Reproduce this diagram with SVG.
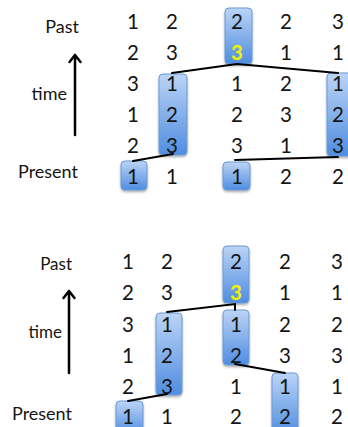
<svg xmlns="http://www.w3.org/2000/svg" width="348" height="427" viewBox="0 0 348 427">
<defs>
<linearGradient id="g" x1="0" y1="0" x2="0" y2="1">
<stop offset="0" stop-color="#bcd4f6"/>
<stop offset="1" stop-color="#4f8de0"/>
</linearGradient>
<filter id="sh" x="-30%" y="-30%" width="160%" height="160%">
<feDropShadow dx="0" dy="1.5" stdDeviation="1.2" flood-color="#000" flood-opacity="0.35"/>
</filter>
</defs>
<style>
.box{fill:url(#g);stroke:#6d99d6;stroke-width:1;filter:url(#sh)}
.d{font-family:Lato,"Liberation Sans",sans-serif;font-size:20.5px;fill:#151515;text-anchor:middle}
.y{fill:#f2f200;font-weight:bold}
.lab{font-family:Lato,"Liberation Sans",sans-serif;font-size:18px;fill:#151515;text-anchor:end}
.ln{stroke:#000;stroke-width:2;fill:none;stroke-linecap:round}
.ax{stroke:#000;stroke-width:2.5;fill:none;stroke-linecap:round;stroke-linejoin:round}
</style>

<!-- Top panel -->
<g id="top-labels">
<text class="lab" x="79" y="33">Past</text>
<text class="lab" x="67" y="100">time</text>
<text class="lab" x="78" y="178">Present</text>
<path class="ax" d="M75 135 V55 M69.5 62 L75 55 L80.5 62"/>
</g>
<g id="top-box-c3-r1"><rect class="box" x="225" y="8" width="27" height="56" rx="4"/></g>
<g id="top-box-c2-r3"><rect class="box" x="159" y="74" width="28" height="81" rx="4"/></g>
<g id="top-box-c5-r3"><rect class="box" x="327" y="73" width="28" height="83" rx="4"/></g>
<g id="top-box-c1-r6"><rect class="box" x="121" y="161" width="26" height="29" rx="4"/></g>
<g id="top-box-c3-r6"><rect class="box" x="223" y="162" width="27" height="28" rx="4"/></g>
<g id="top-digits">
<text class="d" x="133" y="29">1</text><text class="d" x="172" y="29">2</text><text class="d" x="237" y="29">2</text><text class="d" x="286" y="29">2</text><text class="d" x="338" y="29">3</text>
<text class="d" x="133" y="60">2</text><text class="d" x="172" y="60">3</text><text class="d y" x="237" y="60">3</text><text class="d" x="286" y="60">1</text><text class="d" x="338" y="60">1</text>
<text class="d" x="133" y="91">3</text><text class="d" x="172" y="91">1</text><text class="d" x="237" y="91">1</text><text class="d" x="286" y="91">2</text><text class="d" x="338" y="91">1</text>
<text class="d" x="133" y="122">1</text><text class="d" x="172" y="122">2</text><text class="d" x="237" y="122">2</text><text class="d" x="286" y="122">3</text><text class="d" x="338" y="122">2</text>
<text class="d" x="133" y="153">2</text><text class="d" x="172" y="153">3</text><text class="d" x="237" y="153">3</text><text class="d" x="286" y="153">1</text><text class="d" x="338" y="153">3</text>
<text class="d" x="133" y="184">1</text><text class="d" x="172" y="184">1</text><text class="d" x="237" y="184">1</text><text class="d" x="286" y="184">2</text><text class="d" x="338" y="184">2</text>
</g>

<!-- Bottom panel -->
<g id="bottom-labels">
<text class="lab" x="72" y="270" style="font-size:17px">Past</text>
<text class="lab" x="62" y="338" style="font-size:17px">time</text>
<text class="lab" x="72" y="420">Present</text>
<path class="ax" d="M69 373 V291 M63.5 298 L69 291 L74.5 298"/>
</g>
<g id="bot-box-c3-r1"><rect class="box" x="223" y="246" width="26" height="57" rx="4"/></g>
<g id="bot-box-c3-r3"><rect class="box" x="223" y="310" width="26" height="55" rx="4"/></g>
<g id="bot-box-c2-r3"><rect class="box" x="156" y="313" width="26" height="82" rx="4"/></g>
<g id="bot-box-c1-r6"><rect class="box" x="116" y="401" width="27" height="34" rx="4"/></g>
<g id="bot-box-c4-r5"><rect class="box" x="272" y="373" width="26" height="62" rx="4"/></g>
<g id="bottom-digits">
<text class="d" x="128" y="269">1</text><text class="d" x="167" y="269">2</text><text class="d" x="236" y="269">2</text><text class="d" x="285" y="269">2</text><text class="d" x="337" y="269">3</text>
<text class="d" x="128" y="300">2</text><text class="d" x="167" y="300">3</text><text class="d y" x="236" y="300">3</text><text class="d" x="285" y="300">1</text><text class="d" x="337" y="300">1</text>
<text class="d" x="128" y="332">3</text><text class="d" x="167" y="332">1</text><text class="d" x="236" y="332">1</text><text class="d" x="285" y="332">2</text><text class="d" x="337" y="332">2</text>
<text class="d" x="128" y="363">1</text><text class="d" x="167" y="363">2</text><text class="d" x="236" y="363">2</text><text class="d" x="285" y="363">3</text><text class="d" x="337" y="363">3</text>
<text class="d" x="128" y="394">2</text><text class="d" x="167" y="394">3</text><text class="d" x="236" y="394">1</text><text class="d" x="285" y="394">1</text><text class="d" x="337" y="394">1</text>
<text class="d" x="128" y="424">1</text><text class="d" x="167" y="424">1</text><text class="d" x="236" y="424">2</text><text class="d" x="285" y="424">2</text><text class="d" x="337" y="424">2</text>
</g>

<g id="connectors">
<path class="ln" d="M172 73 L237 64 L338 73"/>
<path class="ln" d="M133 161 L173 154"/>
<path class="ln" d="M235 160 L338 157"/>
<path class="ln" d="M167 312 L235 304 L235 310"/>
<path class="ln" d="M128 401 L167 394"/>
<path class="ln" d="M235 364 L285 373"/>
</g>
</svg>
